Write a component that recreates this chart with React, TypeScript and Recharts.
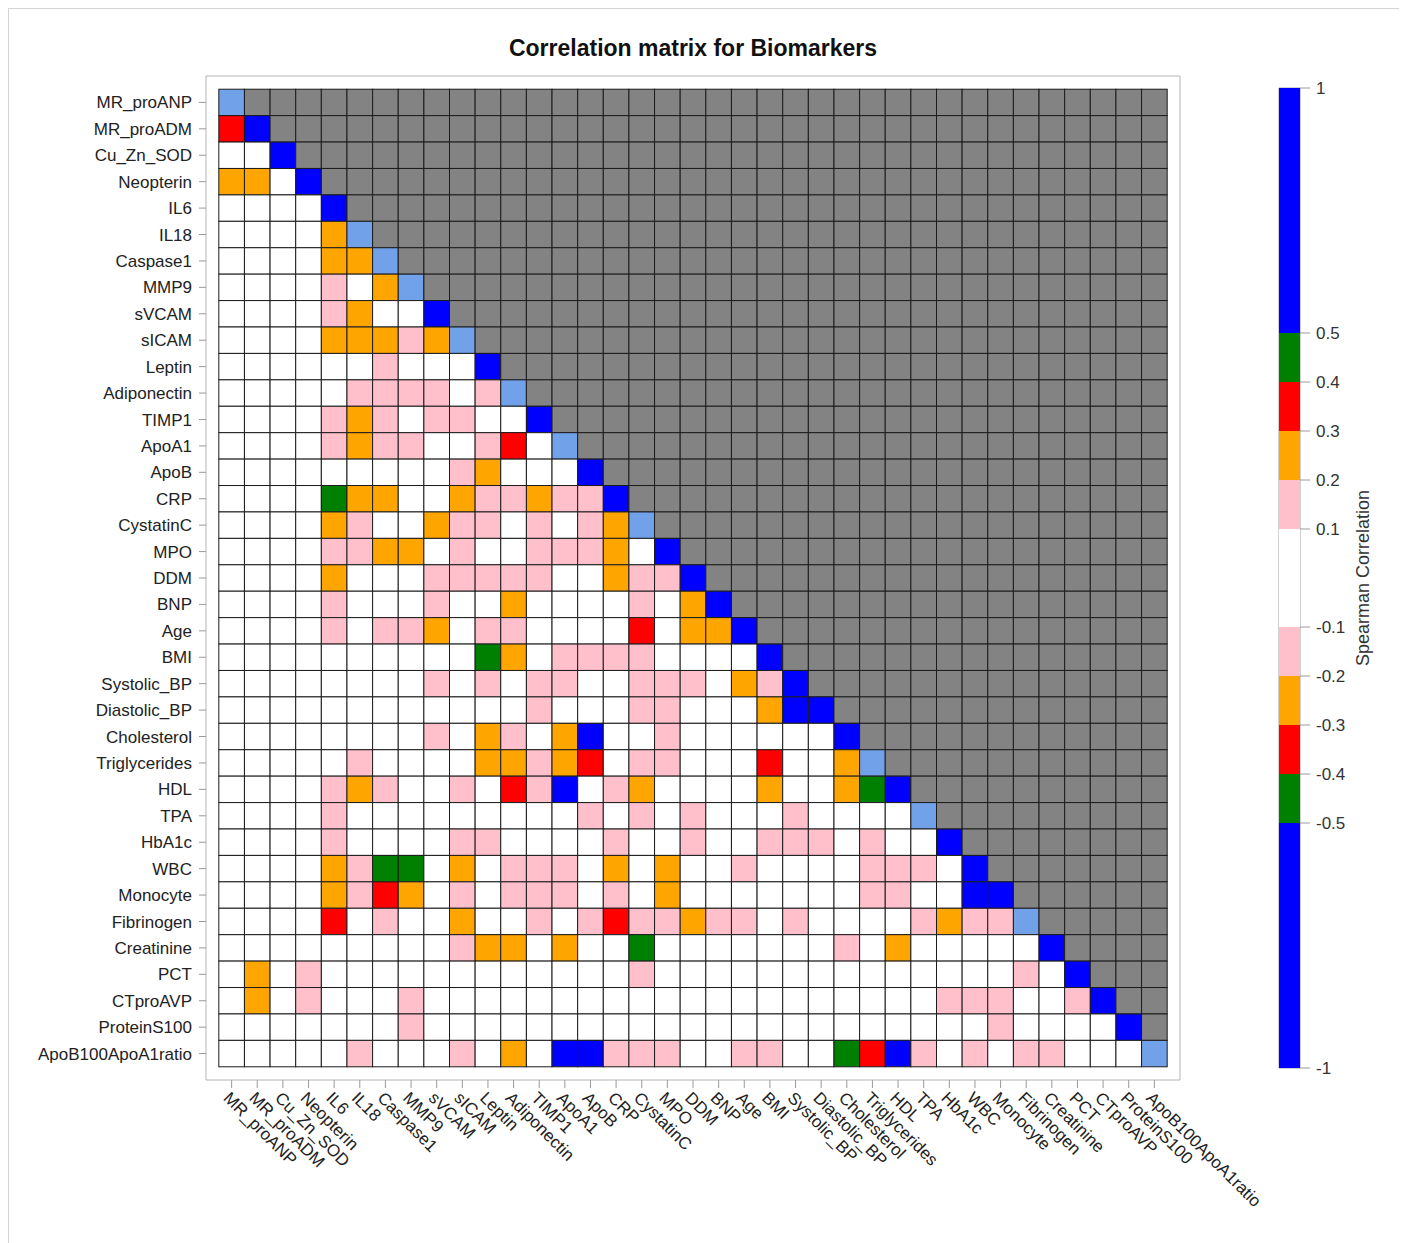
import { Bar, BarChart, ReferenceArea, Scatter, ScatterChart, XAxis, YAxis } from "recharts";

const VARIABLES = [
  "MR_proANP", "MR_proADM", "Cu_Zn_SOD", "Neopterin", "IL6", "IL18", "Caspase1", "MMP9",
  "sVCAM", "sICAM", "Leptin", "Adiponectin", "TIMP1", "ApoA1", "ApoB", "CRP", "CystatinC",
  "MPO", "DDM", "BNP", "Age", "BMI", "Systolic_BP", "Diastolic_BP", "Cholesterol",
  "Triglycerides", "HDL", "TPA", "HbA1c", "WBC", "Monocyte", "Fibrinogen", "Creatinine",
  "PCT", "CTproAVP", "ProteinS100", "ApoB100ApoA1ratio",
];

// lower triangle incl. diagonal, one code per cell (|r| band):
// W <0.1, P 0.1-0.2, O 0.2-0.3, R 0.3-0.4, G 0.4-0.5, B >0.5, L diagonal (light)
const LOWER_ROWS = [
  "L",
  "RB",
  "WWB",
  "OOWB",
  "WWWWB",
  "WWWWOL",
  "WWWWOOL",
  "WWWWPWOL",
  "WWWWPOWWB",
  "WWWWOOOPOL",
  "WWWWWWPWWWB",
  "WWWWWPPPPWPL",
  "WWWWPOPWPPWWB",
  "WWWWPOPPWWPRWL",
  "WWWWWWWWWPOWWWB",
  "WWWWGOOWWOPPOPPB",
  "WWWWOPWWOPPWPWPOL",
  "WWWWPPOOWPWWPPPOWB",
  "WWWWOWWWPPPPPWWOPPB",
  "WWWWPWWWPWWOWWWWPWOB",
  "WWWWPWPPOWPPWWWWRWOOB",
  "WWWWWWWWWWGOWPPPPWWWWB",
  "WWWWWWWWPWPWPPWWPPPWOPB",
  "WWWWWWWWWWWWPWWWPPWWWOBB",
  "WWWWWWWWPWOPWOBWWPWWWWWWB",
  "WWWWWPWWWWOOPORWPPWWWRWWOL",
  "WWWWPOPWWPWRPBWPOWWWWOWWOGB",
  "WWWWPWWWWWWWWWPWPWPWWWPWWWWL",
  "WWWWPWWWWPPWWWWPWWPWWPPPWPWWB",
  "WWWWOPGGWOWPPPWOWOWWPWWWWPPPWB",
  "WWWWOPROWPWPPPWPWOWWWWWWWPPWWBB",
  "WWWWRWPWWOWWPWPRPPOPPWPWWWWPOPPL",
  "WWWWWWWWWPOOWOWWGWWWWWWWPWOWWWWWB",
  "WOWPWWWWWWWWWWWWPWWWWWWWWWWWWWWPWB",
  "WOWPWWWPWWWWWWWWWWWWWWWWWWWWPPPWWPB",
  "WWWWWWWPWWWWWWWWWWWWWWWWWWWWWWPWWWWB",
  "WWWWWPWWWPWOWBBPPPWWPPWWGRBPWPWPPWWWL",
];

const LEVEL_COLORS: Record<string, string> = {
  W: "#ffffff",
  P: "#ffc0cb",
  O: "#ffa500",
  R: "#ff0000",
  G: "#008000",
  B: "#0000ff",
  L: "#71a1e8",
  X: "#838383",
};

const LEGEND_TICKS = [-1, -0.5, -0.4, -0.3, -0.2, -0.1, 0.1, 0.2, 0.3, 0.4, 0.5, 1];
// bands stacked outwards from 0
const POS_EDGES = [0, 0.1, 0.2, 0.3, 0.4, 0.5, 1];
const NEG_EDGES = [0, -0.1, -0.2, -0.3, -0.4, -0.5, -1];
const BAND_COLORS = ["#ffffff", "#ffc0cb", "#ffa500", "#ff0000", "#008000", "#0000ff"];

const FONT = "'Liberation Sans', Arial, sans-serif";
const PLOT_W = 974;
const PLOT_H = 1004;
const SPAN = VARIABLES.length + 1;
const CELL_W = PLOT_W / SPAN;
const CELL_H = PLOT_H / SPAN;

const cells = VARIABLES.flatMap((_, r) =>
  VARIABLES.map((__, c) => ({ x: c, y: r, level: c <= r ? LOWER_ROWS[r][c] : "X" }))
);

const legendRow: Record<string, number | string> = { key: "legend" };
BAND_COLORS.forEach((_, i) => {
  legendRow[`p${i}`] = POS_EDGES[i + 1] - POS_EDGES[i];
  legendRow[`n${i}`] = NEG_EDGES[i + 1] - NEG_EDGES[i];
});

function renderCell(props: any) {
  const { cx, cy, payload } = props;
  return (
    <rect
      x={cx - CELL_W / 2}
      y={cy - CELL_H / 2}
      width={CELL_W}
      height={CELL_H}
      fill={LEVEL_COLORS[payload.level]}
      stroke="#1c1c1c"
      strokeWidth={1}
    />
  );
}

function XTick({ x, y, payload }: any) {
  return (
    <text
      x={x}
      y={y}
      dy="0.75em"
      transform={`rotate(45 ${x} ${y})`}
      textAnchor="start"
      fontSize={17}
      fontFamily={FONT}
      fill="#222"
    >
      {VARIABLES[payload.value]}
    </text>
  );
}

const idx = VARIABLES.map((_, i) => i);

export default function App() {
  return (
    <div style={{ position: "relative", width: 1395, height: 1235, fontFamily: FONT }}>
      <div
        style={{
          position: "absolute",
          left: 0,
          top: 0,
          width: 1395,
          height: 1250,
          border: "1px solid #d4d4d4",
          boxSizing: "border-box",
        }}
      />
      <div
        style={{
          position: "absolute",
          left: 0,
          top: 26,
          width: 1370,
          textAlign: "center",
          fontSize: 23,
          lineHeight: "28px",
          fontWeight: "bold",
          color: "#111",
        }}
      >
        Correlation matrix for Biomarkers
      </div>
      <div style={{ position: "absolute", left: 0, top: 0 }}>
        <ScatterChart width={1300} height={1232} margin={{ top: 68, right: 128, bottom: 0, left: 0 }}>
          <XAxis
            type="number"
            dataKey="x"
            domain={[-1, VARIABLES.length]}
            ticks={idx}
            interval={0}
            axisLine={false}
            tickSize={8}
            tickLine={{ stroke: "#9a9a9a" }}
            tick={<XTick />}
            height={160}
          />
          <YAxis
            type="number"
            dataKey="y"
            reversed
            domain={[-1, VARIABLES.length]}
            ticks={idx}
            interval={0}
            axisLine={false}
            width={198}
            tickSize={7}
            tickMargin={7}
            tickLine={{ stroke: "#9a9a9a" }}
            tickFormatter={(v) => VARIABLES[v]}
            tick={{ fill: "#222", fontSize: 17, fontFamily: FONT }}
          />
          <ReferenceArea
            x1={-1}
            x2={VARIABLES.length}
            y1={-1}
            y2={VARIABLES.length}
            fill="none"
            stroke="#b4b4b4"
            strokeWidth={1}
            ifOverflow="visible"
          />
          <Scatter data={cells} shape={renderCell} isAnimationActive={false} />
        </ScatterChart>
      </div>
      <div style={{ position: "absolute", left: 1262, top: 52 }}>
        <BarChart
          width={110}
          height={1020}
          data={[legendRow]}
          stackOffset="sign"
          barCategoryGap={0}
          margin={{ top: 28, right: 0, bottom: 12, left: 9 }}
        >
          <XAxis dataKey="key" hide />
          <YAxis
            orientation="right"
            type="number"
            domain={[-1, 1]}
            ticks={LEGEND_TICKS}
            interval={0}
            axisLine={false}
            width={80}
            tickSize={10}
            tickMargin={6}
            tickLine={{ stroke: "#9a9a9a" }}
            tick={{ fill: "#333", fontSize: 17, fontFamily: FONT, textAnchor: "start" }}
          />
          {BAND_COLORS.map((color, i) => (
            <Bar key={`p${i}`} dataKey={`p${i}`} stackId="s" fill={color} isAnimationActive={false} />
          ))}
          {BAND_COLORS.map((color, i) => (
            <Bar key={`n${i}`} dataKey={`n${i}`} stackId="s" fill={color} isAnimationActive={false} />
          ))}
          <ReferenceArea y1={-1} y2={1} fill="none" stroke="#a0a0a0" strokeWidth={1} ifOverflow="visible" />
        </BarChart>
      </div>
      <div
        style={{
          position: "absolute",
          left: 1255,
          top: 560,
          width: 200,
          height: 20,
          lineHeight: "20px",
          fontSize: 18,
          textAlign: "center",
          color: "#333",
          transform: "rotate(-90deg)",
        }}
      >
        Spearman Correlation
      </div>
    </div>
  );
}
